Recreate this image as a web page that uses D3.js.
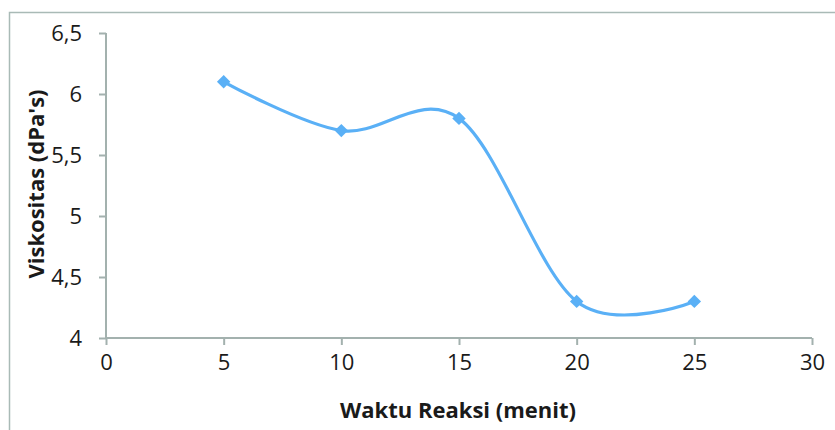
<!DOCTYPE html>
<html><head><meta charset="utf-8">
<script src="https://cdn.jsdelivr.net/npm/d3@7/dist/d3.min.js"></script>
<style>html,body{margin:0;padding:0;background:#fff;}svg{display:block;}</style>
</head><body>
<svg id="chart" width="835" height="430"></svg>
<script>
const waktu = [5, 10, 15, 20, 25];
const viskositas = [6.1, 5.7, 5.8, 4.3, 4.3];
const xTicks = [0, 5, 10, 15, 20, 25, 30];
const yTicks = [4, 4.5, 5, 5.5, 6, 6.5];
const xTitle = "Waktu Reaksi (menit)";
const yTitle = "Viskositas (dPa's)";

const svg = d3.select("#chart");
const font = "'Open Sans', Lato, sans-serif";
const axisColor = "#a3b1ae";

// outer border
svg.append("path").attr("d", "M9.5,440 L9.5,12.5 L840,12.5")
  .attr("fill", "none").attr("stroke", "#a9bab6").attr("stroke-width", 1.5);

const x = d3.scaleLinear().domain([0, 30]).range([106, 812]);
const y = d3.scaleLinear().domain([4, 6.5]).range([338, 33]);
const fmt = d => String(d).replace(".", ",");

const xAxis = svg.append("g").attr("transform", "translate(0,338)")
  .call(d3.axisBottom(x).tickValues(xTicks).tickSize(7).tickPadding(9).tickFormat(fmt));
const yAxis = svg.append("g").attr("transform", "translate(106,0)")
  .call(d3.axisLeft(y).tickValues(yTicks).tickSize(7).tickPadding(17).tickFormat(fmt));

[xAxis, yAxis].forEach(g => {
  g.select(".domain").attr("stroke", axisColor).attr("stroke-width", 2);
  g.selectAll(".tick line").attr("stroke", axisColor).attr("stroke-width", 2);
  g.selectAll(".tick text").attr("fill", "#1a1a1a").style("font-family", font).style("font-size", "22px");
});
xAxis.select(".domain").attr("d", "M106,0H812");
yAxis.select(".domain").attr("d", "M0,338V33");

const pts = waktu.map((w, i) => [x(w), y(viskositas[i])]);
const line = d3.line().curve(d3.curveCardinal.tension(0));
svg.append("path").attr("d", line(pts)).attr("fill", "none")
  .attr("stroke", "#5ab0f6").attr("stroke-width", 3.2);

svg.selectAll(".mk").data(pts).enter().append("path")
  .attr("class", "mk")
  .attr("d", d3.symbol().type(d3.symbolSquare).size(90))
  .attr("transform", d => `translate(${d[0]},${d[1]}) rotate(45)`)
  .attr("fill", "#5ab0f6");

svg.append("text").attr("x", 458).attr("y", 418).attr("text-anchor", "middle")
  .style("font-family", font).style("font-size", "22px").style("font-weight", "bold")
  .attr("fill", "#1a1a1a").text(xTitle);
svg.append("text").attr("transform", "translate(44,184) rotate(-90)").attr("text-anchor", "middle")
  .style("font-family", font).style("font-size", "22px").style("font-weight", "bold")
  .attr("fill", "#1a1a1a").text(yTitle);
</script>
</body></html>
